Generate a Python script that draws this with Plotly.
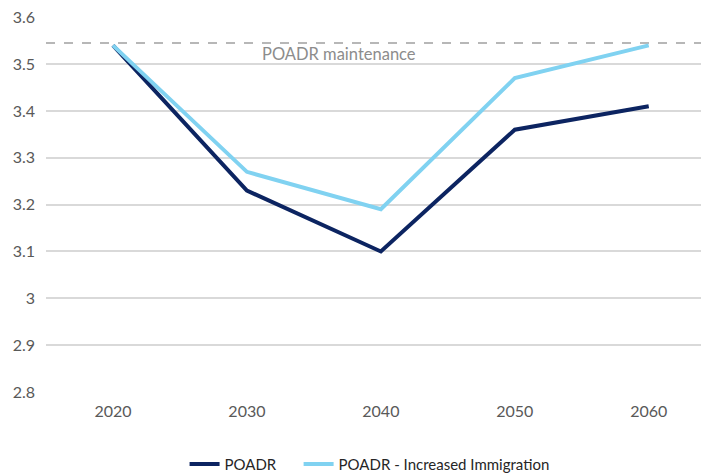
import plotly.graph_objects as go

years = [2020, 2030, 2040, 2050, 2060]
poadr = [3.54, 3.23, 3.10, 3.36, 3.41]
poadr_imm = [3.54, 3.27, 3.19, 3.47, 3.54]
maintenance = 3.545
y_ticks = [2.8, 2.9, 3.0, 3.1, 3.2, 3.3, 3.4, 3.5, 3.6]
y_labels = ["2.8", "2.9", "3", "3.1", "3.2", "3.3", "3.4", "3.5", "3.6"]

fig = go.Figure()
fig.add_trace(go.Scatter(x=years, y=poadr, mode="lines", name="POADR",
                         line=dict(color="#0c2461", width=4), legend="legend"))
fig.add_trace(go.Scatter(x=years, y=poadr_imm, mode="lines", name="POADR - Increased Immigration",
                         line=dict(color="#80d2f1", width=4), legend="legend2"))

fig.add_shape(type="line", xref="paper", yref="y", x0=0, x1=1, y0=maintenance, y1=maintenance,
              line=dict(color="#a0a0a0", width=1.5, dash="dash"), layer="below")
fig.add_annotation(x=2031.0, y=maintenance, xref="x", yref="y", text="POADR maintenance",
                   showarrow=False, yanchor="top", xanchor="left", yshift=1,
                   font=dict(family="Lato", size=16.5, color="#8c8c8c"))

legend_common = dict(orientation="h", xanchor="left", yref="container", y=0.005, yanchor="bottom",
                     font=dict(family="Lato", size=15, color="#262626"), bgcolor="rgba(0,0,0,0)")

fig.update_layout(
    width=709, height=475,
    margin=dict(l=38, r=8, t=9, b=91, autoexpand=False),
    paper_bgcolor="white", plot_bgcolor="white",
    font=dict(family="Lato", size=16, color="#595959"),
    showlegend=True,
    legend=dict(x=0.209, **legend_common),
    legend2=dict(x=0.381, **legend_common),
)
fig.update_xaxes(range=[2015, 2064.5], tickvals=years, ticktext=[str(y) for y in years],
                 showgrid=False, zeroline=False, showline=False, ticks="",
                 ticklabelstandoff=8,
                 tickfont=dict(size=16, color="#595959"))
fig.update_yaxes(range=[2.8, 3.6005], tickvals=y_ticks, ticktext=y_labels,
                 showgrid=True, gridcolor="#d9d9d9", gridwidth=1.5, zeroline=False,
                 showline=False, ticks="", ticklabelstandoff=10, ticklabeloverflow="allow",
                 tickfont=dict(size=16, color="#595959"))

fig.write_html("out.html")
